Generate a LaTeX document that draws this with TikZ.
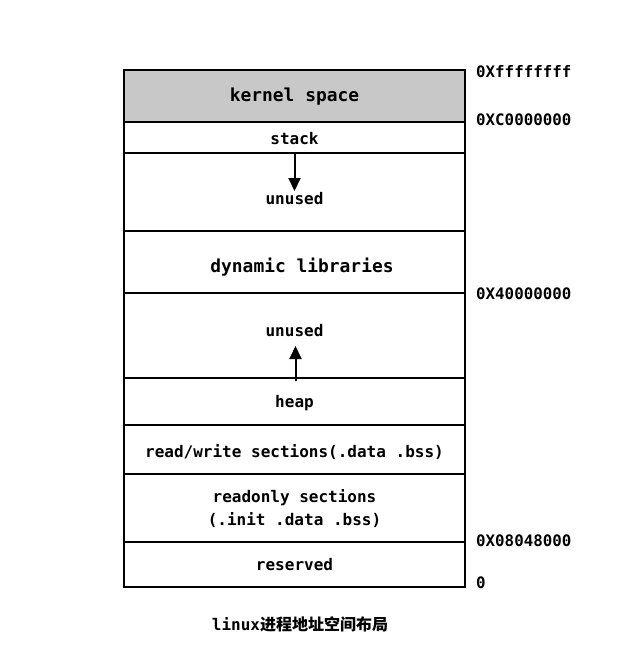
\documentclass[tikz,border=0pt]{standalone}
\usepackage{fontspec}
\setmonofont{DejaVu Sans Mono}
\newfontfamily\cjk{Noto Sans CJK SC}
\usetikzlibrary{arrows.meta}
\definecolor{kgray}{RGB}{200,200,200}
\tikzset{
  seg/.style={draw, line width=1.8pt, minimum width=341pt, inner sep=0pt, outer sep=0pt},
  txt/.style={font=\ttfamily\bfseries\fontsize{16}{20}\selectfont, inner sep=0pt, align=center},
  addr/.style={font=\ttfamily\bfseries\fontsize{15.8}{19}\selectfont, inner sep=0pt, anchor=west},
  growarrow/.style={line width=2pt, -{Triangle[length=13pt,width=12pt]}}
}
\begin{document}
\begin{tikzpicture}[x=1pt,y=-1pt]
\useasboundingbox (0,0) rectangle (619,661);
\node[seg, fill=kgray, minimum height=52pt] (kernel) at (294.5,96) {};
\node[seg, minimum height=31pt] (stack) at (294.5,137.5) {};
\node[seg, minimum height=78pt] (unused1) at (294.5,192) {};
\node[seg, minimum height=62pt] (dyn) at (294.5,262) {};
\node[seg, minimum height=85pt] (unused2) at (294.5,335.5) {};
\node[seg, minimum height=47pt] (heap) at (294.5,401.5) {};
\node[seg, minimum height=49pt] (rw) at (294.5,449.5) {};
\node[seg, minimum height=68pt] (ro) at (294.5,508) {};
\node[seg, minimum height=45pt] (res) at (294.5,564.5) {};

\node[txt, font=\ttfamily\bfseries\fontsize{17.9}{22}\selectfont] (tkernel) at (294.5,96.5) {kernel space};
\node[txt] (tstack) at (294.5,139) {stack};
\node[txt] (tunused1) at (294.5,199) {unused};
\node[txt, font=\ttfamily\bfseries\fontsize{17.9}{22}\selectfont] (tdyn) at (302,267.5) {dynamic libraries};
\node[txt] (tunused2) at (294.5,331) {unused};
\node[txt] (theap) at (294.5,403.5) {heap};
\node[txt] (trw) at (294.5,452) {read/write sections(.data .bss)};
\node[txt, font=\ttfamily\bfseries\fontsize{16}{23}\selectfont] (tro) at (294.5,509) {readonly sections\\(.init .data .bss)};
\node[txt] (tres) at (294.5,564.5) {reserved};

\coordinate (downtip) at (294.5,191);
\coordinate (upstart) at (295.5,381);
\coordinate (uptip) at (295.5,346);
\draw[growarrow] (stack.south) -- (downtip);
\draw[growarrow] (upstart) -- (uptip);

\node[addr] (a1) at (476,72) {0Xffffffff};
\node[addr] (a2) at (476,120) {0XC0000000};
\node[addr] (a3) at (476,294) {0X40000000};
\node[addr] (a4) at (476,541) {0X08048000};
\node[addr] (a5) at (476,583) {0};

\node[inner sep=0pt] (cap) at (300,624) {{\ttfamily\bfseries\fontsize{16}{20}\selectfont linux}{\cjk\bfseries\fontsize{16}{20}\selectfont 进程地址空间布局}};
\end{tikzpicture}
\end{document}
